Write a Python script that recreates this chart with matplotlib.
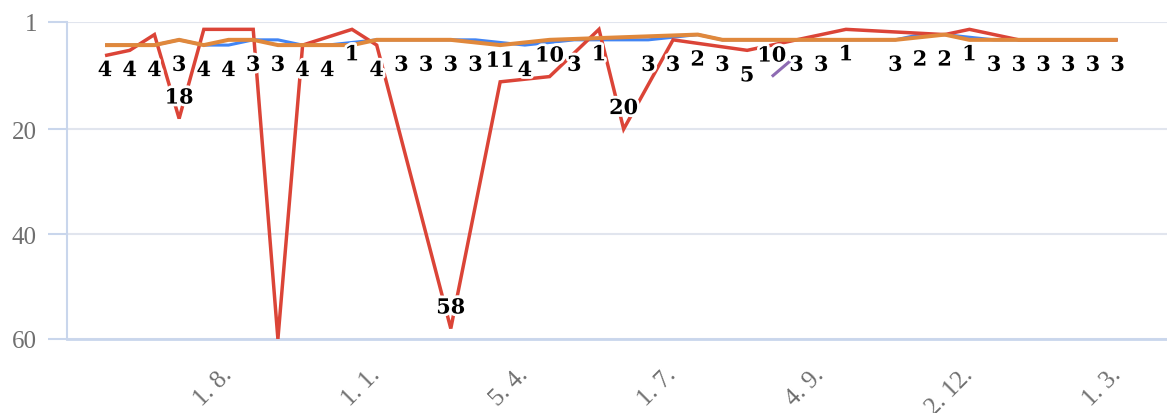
import matplotlib
matplotlib.use("Agg")
import matplotlib.pyplot as plt
import matplotlib.patheffects as pe
from matplotlib.transforms import ScaledTranslation
import numpy as np

# Data (None = no value, the line is drawn straight across)
n_points = 42
blue = [4, 4, 4, 3, 4, 4, 3, 3, 4, 4, None, 3, 3, 3, 3, 3, None, 4, None, 3,
        3, None, 3, None, 2, 3, 3, 3, 3, 3, 3, None, 3, 2, 2, None, 3, 3, 3, 3,
        3, 3]
red = [6, 5, 2, 18, 1, 1, 1, 60, 4, None, 1, 4, None, None, 58, None, 11, None, 10, None,
       1, 20, None, 3, None, None, 5, None, None, None, 1, None, None, None, 2, 1, None, 3, 3, 3,
       3, 3]
orange = [4, 4, 4, 3, 4, 3, 3, 4, 4, 4, 4, 3, 3, 3, 3, None, 4, None, 3, None,
          None, None, None, None, 2, 3, 3, 3, 3, 3, 3, 3, 3, None, 2, 3, 3, 3, 3, 3,
          3, 3]
purple = [None] * 27 + [10, 6] + [None] * 13

# which points carry a data label
blue_label_idx = [0, 1, 2, 3, 4, 5, 6, 7, 8, 9, 12, 13, 14, 15, 17, 19, 22, 24, 25,
                  28, 29, 32, 33, 34, 36, 37, 38, 39, 40, 41]
red_label_idx = [3, 10, 11, 14, 16, 18, 20, 21, 23, 26, 30, 35]
purple_label_idx = [27]

x_labels = ["1. 8.", "1. 1.", "5. 4.", "1. 7.", "4. 9.", "2. 12.", "1. 3."]
x_label_pos = list(range(5, n_points, 6))
y_tick_labels = ["1", "20", "40", "60"]

x = np.arange(n_points)

fig = plt.figure(figsize=(11.67, 4.14), dpi=100)
ax = fig.add_axes([67 / 1167, 1 - 340 / 414, 1 - 67 / 1167, (340 - 23) / 414])

y_top = -0.4
ax.set_xlim(-1.54, 43.0)
ax.set_ylim(60, y_top)


def draw(values, color, lw, z):
    v = np.array([np.nan if a is None else a for a in values], dtype=float)
    m = ~np.isnan(v)
    ax.plot(x[m], v[m], color=color, lw=lw, zorder=z, solid_joinstyle="miter",
            solid_capstyle="butt")
    return v


vb = draw(blue, "#4285f4", 2.2, 3)
vp = draw(purple, "#8e6bb3", 2.2, 3.5)
vr = draw(red, "#db4437", 2.5, 4)
vo = draw(orange, "#e0883c", 2.9, 5)

halo = [pe.withStroke(linewidth=4, foreground="white")]


def label(v, idx):
    for i in idx:
        val = v[i]
        above = val >= 8
        ax.annotate(str(int(val + 0.5)), (x[i], val),
                    xytext=(0, 21 if above else -25), textcoords="offset pixels",
                    ha="center", va="center", fontsize=15, fontweight="bold",
                    family="DejaVu Serif", color="black", zorder=10,
                    path_effects=halo, annotation_clip=False)


label(vb, blue_label_idx)
label(vr, red_label_idx)
label(vp, purple_label_idx)

# axes styling
ax.set_yticks([y_top, 20, 40, 60], y_tick_labels)
ax.set_xticks(x_label_pos, x_labels)
ax.tick_params(axis="y", length=13.7, width=1.5, color="#c9d6ec", pad=8,
               labelsize=18, labelcolor="#6f6f6f")
ax.tick_params(axis="x", length=0, pad=15, labelsize=18, labelcolor="#6f6f6f")
shift = ScaledTranslation(-8 / 100, -3 / 100, fig.dpi_scale_trans)
for t in ax.get_xticklabels():
    t.set_rotation(45)
    t.set_ha("right")
    t.set_rotation_mode("anchor")
    t.set_family("Liberation Serif")
    t.set_transform(t.get_transform() + shift)
for t in ax.get_yticklabels():
    t.set_family("Liberation Serif")

ax.grid(axis="y", color="#e1e5ee", lw=1.5, zorder=0)
ax.grid(axis="x", visible=False)
for s in ["top", "right"]:
    ax.spines[s].set_visible(False)
ax.spines["left"].set_color("#c9d6ec")
ax.spines["left"].set_linewidth(1.5)
ax.spines["bottom"].set_color("#c9d6ec")
ax.spines["bottom"].set_linewidth(2)

fig.savefig("out.png", dpi=100)
